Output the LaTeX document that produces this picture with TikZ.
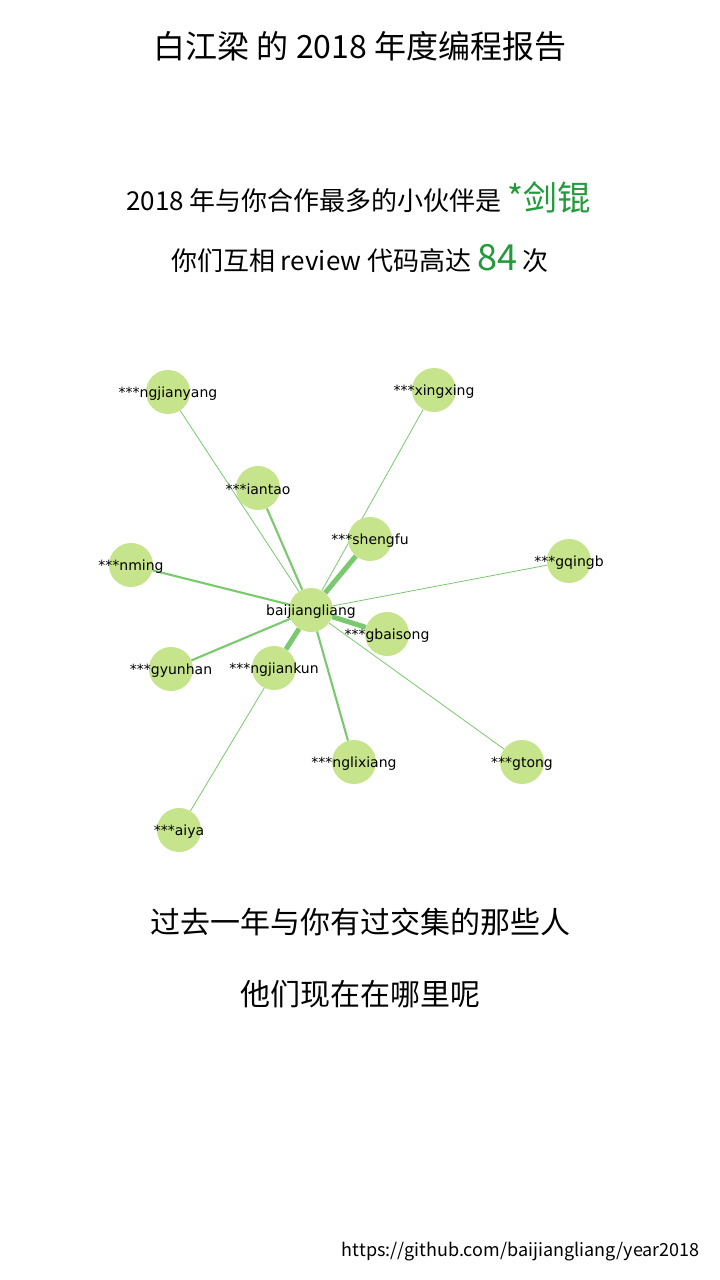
\documentclass[tikz,border=0pt]{standalone}
\usepackage{fontspec}
\setmainfont{Noto Sans CJK SC}
\newfontfamily\namefont{DejaVu Sans}
\usetikzlibrary{backgrounds}
\definecolor{nodegreen}{HTML}{C6E48B}
\definecolor{edgegreen}{HTML}{7BC96F}
\definecolor{textgreen}{HTML}{239A3B}

\begin{document}
\begin{tikzpicture}[x=1pt,y=-1pt,
	person/.style={circle,fill=nodegreen,minimum size=44pt,inner sep=0pt,
	label={[font=\namefont\fontsize{14}{16}\selectfont,inner sep=0pt,yshift=-1.5pt]center:#1}},
	weak/.style={draw=edgegreen,line width=0.8pt},
	mid/.style={draw=edgegreen,line width=2.1pt},
	strong/.style={draw=edgegreen,line width=5pt},
	textline/.style={anchor=base,inner sep=0pt,font=\fontsize{26}{30}\selectfont}]
	\useasboundingbox (0,0) rectangle (720,1280);
	% texts
	\node[textline,font=\fontsize{32}{36}\selectfont] (title) at (360,58) {白江梁 的 2018 年度编程报告};
	\node[textline] (partner) at (359,210) {2018 年与你合作最多的小伙伴是 \textcolor{textgreen}{\fontsize{34}{40}\selectfont *剑锟}};
	\node[textline] (count) at (360,270) {你们互相 review 代码高达 \textcolor{textgreen}{\fontsize{36}{40}\selectfont 84} 次};
	\node[textline,font=\fontsize{30}{34}\selectfont] (past) at (360,933) {过去一年与你有过交集的那些人};
	\node[textline,font=\fontsize{30}{34}\selectfont] (where) at (360,1005) {他们现在在哪里呢};
	\node[anchor=base east,inner sep=0pt,font=\fontsize{18}{21}\selectfont] (url) at (700,1256) {https://github.com/baijiangliang/year2018};
	% people
	\node[person=baijiangliang] (me) at (311,610) {};
	\node[person=***ngjianyang] (ngjianyang) at (168,392) {};
	\node[person=***xingxing] (xingxing) at (434,390) {};
	\node[person=***iantao] (iantao) at (258,488) {};
	\node[person=***shengfu] (shengfu) at (370,539) {};
	\node[person=***gqingb] (gqingb) at (569,561) {};
	\node[person=***nming] (nming) at (131,565) {};
	\node[person=***gbaisong] (gbaisong) at (387,634) {};
	\node[person=***gyunhan] (gyunhan) at (171,669) {};
	\node[person=***ngjiankun] (ngjiankun) at (274,668) {};
	\node[person=***nglixiang] (nglixiang) at (354,762) {};
	\node[person=***gtong] (gtong) at (522,762) {};
	\node[person=***aiya] (aiya) at (179,830) {};
	% links
	\begin{scope}[on background layer]
		\fill[white] (0,0) rectangle (720,1280);
		\draw[weak] (me) -- (ngjianyang);
		\draw[weak] (me) -- (xingxing);
		\draw[weak] (me) -- (gqingb);
		\draw[weak] (me) -- (gtong);
		\draw[weak] (me) -- (aiya);
		\draw[mid] (me) -- (iantao);
		\draw[mid] (me) -- (nming);
		\draw[mid] (me) -- (gyunhan);
		\draw[mid] (me) -- (nglixiang);
		\draw[strong] (me) -- (shengfu);
		\draw[strong] (me) -- (gbaisong);
		\draw[strong] (me) -- (ngjiankun);
	\end{scope}
\end{tikzpicture}
\end{document}
